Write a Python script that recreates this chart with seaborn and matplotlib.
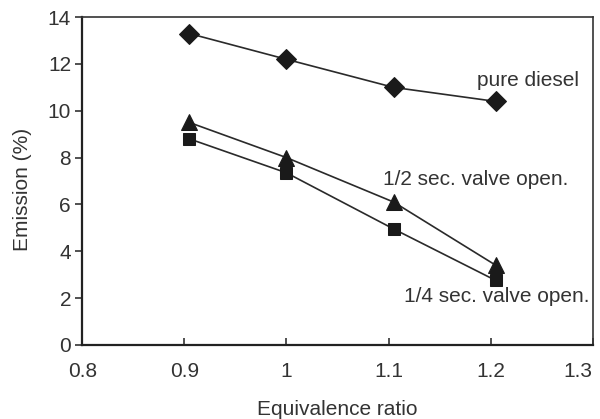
import numpy as np
import pandas as pd
import matplotlib
matplotlib.use("Agg")
import matplotlib.pyplot as plt
import seaborn as sns

# equivalence ratio for each measured point
eq_ratio = [0.905, 1.0, 1.105, 1.205]

pure_diesel = [13.3, 12.2, 11.0, 10.4]
half_sec = [9.5, 8.0, 6.1, 3.4]
quarter_sec = [8.8, 7.35, 4.95, 2.75]

series_names = ["pure diesel", "1/2 sec. valve open.", "1/4 sec. valve open."]

x_ticks = [0.8, 0.9, 1.0, 1.1, 1.2, 1.3]
x_tick_labels = ["0.8", "0.9", "1", "1.1", "1.2", "1.3"]
y_ticks = [0, 2, 4, 6, 8, 10, 12, 14]

df = pd.DataFrame({
    "ratio": eq_ratio * 3,
    "emission": pure_diesel + half_sec + quarter_sec,
    "series": np.repeat(series_names, len(eq_ratio)),
})

sns.set_theme(style="white")
plt.rcParams['font.family'] = ['Liberation Sans', 'DejaVu Sans']

fig = plt.figure(figsize=(6.0, 4.19), dpi=100)
ax = fig.add_axes([0.137, 0.177, 0.851, 0.782])

markers = {"pure diesel": "D", "1/2 sec. valve open.": "^", "1/4 sec. valve open.": "s"}
sizes = {"pure diesel": 10, "1/2 sec. valve open.": 11, "1/4 sec. valve open.": 8.5}

for name in series_names:
    sub = df[df["series"] == name]
    sns.lineplot(data=sub, x="ratio", y="emission", ax=ax, color="#2a2a2a",
                 linewidth=1.2, marker=markers[name], markersize=sizes[name],
                 markerfacecolor="#1a1a1a", markeredgecolor="#1a1a1a", legend=False)

fs = 15
txt = "#333333"
ax.text(1.237, 11.3, "pure diesel", fontsize=fs, color=txt, ha="center", va="center")
ax.text(1.1855, 7.05, "1/2 sec. valve open.", fontsize=fs, color=txt, ha="center", va="center")
ax.text(1.206, 2.05, "1/4 sec. valve open.", fontsize=fs, color=txt, ha="center", va="center")

ax.set_xlim(0.8, 1.3)
ax.set_ylim(0, 14)
ax.set_xticks(x_ticks)
ax.set_xticklabels(x_tick_labels)
ax.set_yticks(y_ticks)
ax.set_xlabel("Equivalence ratio", fontsize=fs, color=txt)
ax.set_ylabel("Emission (%)", fontsize=fs, color=txt)
ax.xaxis.set_label_coords(0.50, -0.168)
ax.yaxis.set_label_coords(-0.098, 0.474)

ax.tick_params(axis="x", direction="in", length=5, width=1.2, labelsize=fs,
               colors=txt, pad=12, bottom=True)
ax.tick_params(axis="y", direction="out", length=5, width=1.2, labelsize=fs,
               colors=txt, pad=3, left=True)
ax.get_xticklabels()[-1].set_horizontalalignment("right")

for side in ["left", "bottom"]:
    ax.spines[side].set_linewidth(1.6)
    ax.spines[side].set_color("#222222")
for side in ["top", "right"]:
    ax.spines[side].set_linewidth(1.2)
    ax.spines[side].set_color("#333333")

fig.savefig("out.png", dpi=100, facecolor="white")
